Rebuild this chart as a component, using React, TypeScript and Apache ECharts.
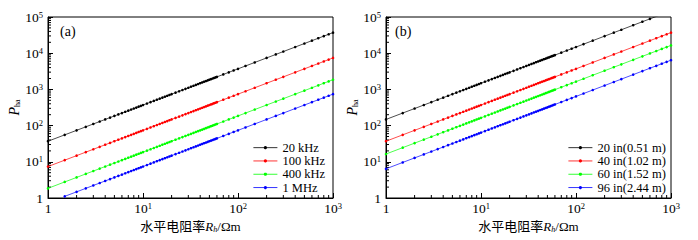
import React, { useEffect, useRef } from 'react';
import * as echarts from 'echarts';

// horizontal resistivity Rh (Ωm), shared sampling of every curve
const R = [1, 1.5, 2, 2.5, 3, 3.5, 4, 4.5, 5, 5.5, 6, 6.5, 7, 7.5, 8, 8.5, 9, 9.5, 10, 11, 12, 13, 14, 15, 16, 17, 18, 19, 20, 22, 24, 26, 28, 30, 32, 34, 36, 38, 40, 42, 44, 46, 48, 50, 52, 54, 56, 58, 60, 70, 80, 90, 100, 120, 150, 200, 250, 300, 400, 500, 600, 700, 800, 900, 1000];

// (a) frequencies
const f20k = [37, 55.5, 74, 92.5, 111, 129.5, 148, 166.5, 185, 203.5, 222, 240.5, 259, 277.5, 296, 314.5, 333, 351.5, 370, 407, 444, 481, 518, 555, 592, 629, 666, 703, 740, 814, 888, 962, 1036, 1110, 1184, 1258, 1332, 1406, 1480, 1554, 1628, 1702, 1776, 1850, 1924, 1998, 2072, 2146, 2220, 2590, 2960, 3330, 3700, 4440, 5550, 7400, 9250, 11100, 14800, 18500, 22200, 25900, 29600, 33300, 37000];
const f100k = [7.4, 11.1, 14.8, 18.5, 22.2, 25.9, 29.6, 33.3, 37, 40.7, 44.4, 48.1, 51.8, 55.5, 59.2, 62.9, 66.6, 70.3, 74, 81.4, 88.8, 96.2, 103.6, 111, 118.4, 125.8, 133.2, 140.6, 148, 162.8, 177.6, 192.4, 207.2, 222, 236.8, 251.6, 266.4, 281.2, 296, 310.8, 325.6, 340.4, 355.2, 370, 384.8, 399.6, 414.4, 429.2, 444, 518, 592, 666, 740, 888, 1110, 1480, 1850, 2220, 2960, 3700, 4440, 5180, 5920, 6660, 7400];
const f400k = [1.85, 2.78, 3.7, 4.63, 5.55, 6.48, 7.4, 8.33, 9.25, 10.18, 11.1, 12.03, 12.95, 13.88, 14.8, 15.73, 16.65, 17.58, 18.5, 20.35, 22.2, 24.05, 25.9, 27.75, 29.6, 31.45, 33.3, 35.15, 37, 40.7, 44.4, 48.1, 51.8, 55.5, 59.2, 62.9, 66.6, 70.3, 74, 77.7, 81.4, 85.1, 88.8, 92.5, 96.2, 99.9, 103.6, 107.3, 111, 129.5, 148, 166.5, 185, 222, 277.5, 370, 462.5, 555, 740, 925, 1110, 1295, 1480, 1665, 1850];
const f1M = [null, 1.11, 1.48, 1.85, 2.22, 2.59, 2.96, 3.33, 3.7, 4.07, 4.44, 4.81, 5.18, 5.55, 5.92, 6.29, 6.66, 7.03, 7.4, 8.14, 8.88, 9.62, 10.36, 11.1, 11.84, 12.58, 13.32, 14.06, 14.8, 16.28, 17.76, 19.24, 20.72, 22.2, 23.68, 25.16, 26.64, 28.12, 29.6, 31.08, 32.56, 34.04, 35.52, 37, 38.48, 39.96, 41.44, 42.92, 44.4, 51.8, 59.2, 66.6, 74, 88.8, 111, 148, 185, 222, 296, 370, 444, 518, 592, 666, 740];

// (b) coil spacings
const in20 = [148, 222, 296, 370, 444, 518, 592, 666, 740, 814, 888, 962, 1036, 1110, 1184, 1258, 1332, 1406, 1480, 1628, 1776, 1924, 2072, 2220, 2368, 2516, 2664, 2812, 2960, 3256, 3552, 3848, 4144, 4440, 4736, 5032, 5328, 5624, 5920, 6216, 6512, 6808, 7104, 7400, 7696, 7992, 8288, 8584, 8880, 10360, 11840, 13320, 14800, 17760, 22200, 29600, 37000, 44400, 59200, 74000, 88800, 103600, 118400, 133200, 148000];
const in40 = [37, 55.5, 74, 92.5, 111, 129.5, 148, 166.5, 185, 203.5, 222, 240.5, 259, 277.5, 296, 314.5, 333, 351.5, 370, 407, 444, 481, 518, 555, 592, 629, 666, 703, 740, 814, 888, 962, 1036, 1110, 1184, 1258, 1332, 1406, 1480, 1554, 1628, 1702, 1776, 1850, 1924, 1998, 2072, 2146, 2220, 2590, 2960, 3330, 3700, 4440, 5550, 7400, 9250, 11100, 14800, 18500, 22200, 25900, 29600, 33300, 37000];
const in60 = [16.4, 24.6, 32.8, 41, 49.2, 57.4, 65.6, 73.8, 82, 90.2, 98.4, 106.6, 114.8, 123, 131.2, 139.4, 147.6, 155.8, 164, 180.4, 196.8, 213.2, 229.6, 246, 262.4, 278.8, 295.2, 311.6, 328, 360.8, 393.6, 426.4, 459.2, 492, 524.8, 557.6, 590.4, 623.2, 656, 688.8, 721.6, 754.4, 787.2, 820, 852.8, 885.6, 918.4, 951.2, 984, 1148, 1312, 1476, 1640, 1968, 2460, 3280, 4100, 4920, 6560, 8200, 9840, 11480, 13120, 14760, 16400];
const in96 = [6.4, 9.6, 12.8, 16, 19.2, 22.4, 25.6, 28.8, 32, 35.2, 38.4, 41.6, 44.8, 48, 51.2, 54.4, 57.6, 60.8, 64, 70.4, 76.8, 83.2, 89.6, 96, 102.4, 108.8, 115.2, 121.6, 128, 140.8, 153.6, 166.4, 179.2, 192, 204.8, 217.6, 230.4, 243.2, 256, 268.8, 281.6, 294.4, 307.2, 320, 332.8, 345.6, 358.4, 371.2, 384, 448, 512, 576, 640, 768, 960, 1280, 1600, 1920, 2560, 3200, 3840, 4480, 5120, 5760, 6400];

const namesA = ['20 kHz', '100 kHz', '400 kHz', '1 MHz'];
const namesB = ['20 in(0.51 m)', '40 in(1.02 m)', '60 in(1.52 m)', '96 in(2.44 m)'];
const colors = ['#000000', '#ff0000', '#00ff00', '#0000ff'];

const xMinor = [2, 3, 4, 5, 6, 7, 8, 9, 20, 30, 40, 50, 60, 70, 80, 90, 200, 300, 400, 500, 600, 700, 800, 900];
const yMinor = [2, 3, 4, 5, 6, 7, 8, 9, 20, 30, 40, 50, 60, 70, 80, 90, 200, 300, 400, 500, 600, 700, 800, 900, 2000, 3000, 4000, 5000, 6000, 7000, 8000, 9000, 20000, 30000, 40000, 50000, 60000, 70000, 80000, 90000];

const FONT = '"Liberation Serif", "Times New Roman", "Noto Sans CJK SC", serif';

function pairs(vals: (number | null)[]) {
  const out: number[][] = [];
  R.forEach((r, i) => {
    const v = vals[i];
    if (v !== null && v !== undefined) out.push([r, v]);
  });
  return out;
}

const powLabel = (v: number) => {
  if (v === 1) return '1';
  const e = Math.round(Math.log10(v));
  return '10{sup|' + e + '}';
};

const labelRich = {
  sup: { fontSize: 8.5, fontFamily: FONT, color: '#000', verticalAlign: 'top', padding: [0, 0, 5, 0] },
};

export default function App() {
  const ref = useRef<HTMLDivElement>(null);
  useEffect(() => {
    const chart = echarts.init(ref.current!, null, { renderer: 'svg' });
    const grids = [
      { left: 48, width: 285, top: 17, height: 181 },
      { left: 386, width: 285, top: 17, height: 181 },
    ].map((g) => ({ ...g, show: true, borderColor: '#000', borderWidth: 1, backgroundColor: 'transparent', containLabel: false, outerBoundsMode: 'none' }));

    const xAxes = [0, 1].map((i) => ({
      type: 'log', logBase: 10, gridIndex: i, min: 1, max: 1000,
      axisLine: { show: true, lineStyle: { color: '#000', width: 1 } },
      axisTick: { show: true, inside: true, length: 5, lineStyle: { color: '#000', width: 1 } },
      splitLine: { show: false },
      axisLabel: { formatter: powLabel, rich: labelRich, color: '#000', fontSize: 13.5, fontFamily: FONT, margin: 4 },
      name: '水平电阻率{i|R}{sub|h}/Ωm',
      nameLocation: 'middle', nameGap: 22,
      nameTextStyle: {
        color: '#000', fontSize: 13, fontFamily: FONT,
        rich: {
          i: { fontStyle: 'italic', fontSize: 13, fontFamily: FONT, color: '#000' },
          sub: { fontStyle: 'italic', fontSize: 8, fontFamily: FONT, color: '#000', verticalAlign: 'bottom', padding: [4, 0, 0, 0] },
        },
      },
    }));
    const yAxes = [0, 1].map((i) => ({
      type: 'log', logBase: 10, gridIndex: i, min: 1, max: 100000,
      axisLine: { show: true, lineStyle: { color: '#000', width: 1 } },
      axisTick: { show: true, inside: true, length: 5, lineStyle: { color: '#000', width: 1 } },
      splitLine: { show: false },
      axisLabel: { formatter: powLabel, rich: labelRich, color: '#000', fontSize: 13.5, fontFamily: FONT, margin: 5 },
      name: '{i|P}{sub|ha}',
      nameLocation: 'middle', nameRotate: 90, nameGap: 20,
      nameTextStyle: {
        color: '#000', fontFamily: FONT,
        rich: {
          i: { fontStyle: 'italic', fontSize: 14, fontFamily: FONT, color: '#000' },
          sub: { fontSize: 8, fontFamily: FONT, color: '#000', verticalAlign: 'bottom', padding: [4, 0, 0, 0] },
        },
      },
    }));

    const lineSeries = (name: string, vals: (number | null)[], idx: number, color: string) => ({
      type: 'line', name, xAxisIndex: idx, yAxisIndex: idx,
      data: pairs(vals),
      symbol: 'circle', symbolSize: 2.6, showSymbol: true, showAllSymbol: true,
      lineStyle: { color, width: 0.7 },
      itemStyle: { color },
      clip: true, silent: true,
    });

    const minorSeries = (idx: number) => [
      {
        type: 'custom', xAxisIndex: idx, yAxisIndex: idx, silent: true, clip: false,
        data: xMinor.map((v) => [v, 1]),
        renderItem: (_p: any, api: any) => {
          const p = api.coord([api.value(0), api.value(1)]);
          return { type: 'line', shape: { x1: p[0], y1: p[1], x2: p[0], y2: p[1] - 3 }, style: { stroke: '#000', lineWidth: 1 } };
        },
      },
      {
        type: 'custom', xAxisIndex: idx, yAxisIndex: idx, silent: true, clip: false,
        data: yMinor.map((v) => [1, v]),
        renderItem: (_p: any, api: any) => {
          const p = api.coord([api.value(0), api.value(1)]);
          return { type: 'line', shape: { x1: p[0], y1: p[1], x2: p[0] + 3, y2: p[1] }, style: { stroke: '#000', lineWidth: 1 } };
        },
      },
    ];

    const legendBase = {
      orient: 'vertical', itemWidth: 24, itemHeight: 4, itemGap: 0, selectedMode: false,
      lineStyle: { width: 0.8 },
      textStyle: { color: '#000', fontSize: 12.5, fontFamily: FONT, lineHeight: 13.3 },
    };

    chart.setOption({
      animation: false,
      backgroundColor: '#fff',
      grid: grids,
      xAxis: xAxes,
      yAxis: yAxes,
      legend: [
        { ...legendBase, data: namesA, left: 248, top: 136 },
        { ...legendBase, data: namesB, left: 563, top: 136 },
      ],
      graphic: [
        { type: 'text', left: 60, top: 24, style: { text: '(a)', fontSize: 14, fontFamily: FONT, fill: '#000' } },
        { type: 'text', left: 395, top: 24, style: { text: '(b)', fontSize: 14, fontFamily: FONT, fill: '#000' } },
      ],
      series: [
        lineSeries(namesA[0], f20k, 0, colors[0]),
        lineSeries(namesA[1], f100k, 0, colors[1]),
        lineSeries(namesA[2], f400k, 0, colors[2]),
        lineSeries(namesA[3], f1M, 0, colors[3]),
        lineSeries(namesB[0], in20, 1, colors[0]),
        lineSeries(namesB[1], in40, 1, colors[1]),
        lineSeries(namesB[2], in60, 1, colors[2]),
        lineSeries(namesB[3], in96, 1, colors[3]),
        ...minorSeries(0),
        ...minorSeries(1),
      ],
    });
    return () => chart.dispose();
  }, []);
  return <div ref={ref} style={{ position: 'absolute', left: 0, top: 0, width: 698, height: 240 }} />;
}
